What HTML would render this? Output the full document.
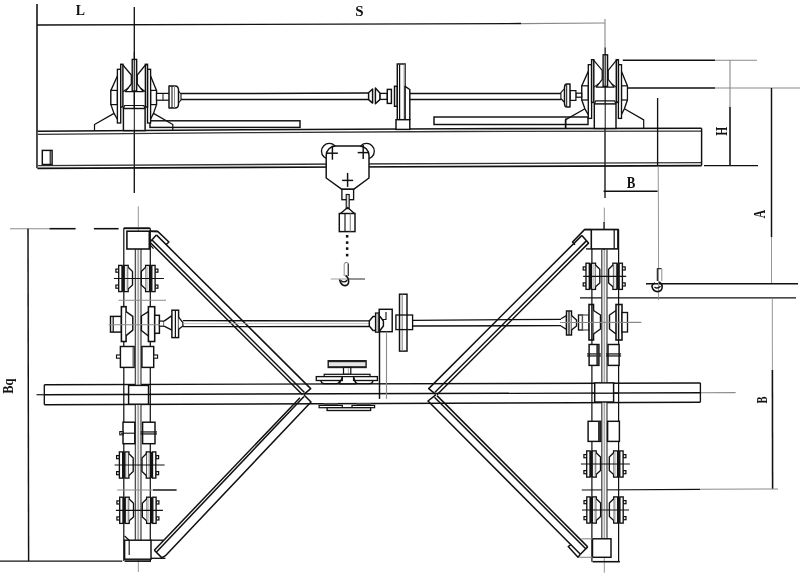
<!DOCTYPE html>
<html><head><meta charset="utf-8"><style>
html,body{margin:0;padding:0;background:#fff;}
body{width:800px;height:575px;overflow:hidden;font-family:"Liberation Serif",serif;}
svg{display:block;filter:grayscale(1);}
</style></head><body>
<svg width="800" height="575" viewBox="0 0 800 575">
<rect width="800" height="575" fill="#fff"/>
<line x1="37" y1="4" x2="37" y2="168" stroke="#111" stroke-width="1.57"/>
<line x1="37" y1="25" x2="521" y2="23.6" stroke="#111" stroke-width="1.46"/>
<line x1="521" y1="23.6" x2="605" y2="23" stroke="#888" stroke-width="1.23"/>
<text x="0" y="0" font-family="Liberation Serif" font-size="100" font-weight="bold" fill="#111" transform="translate(75.823 14.900) scale(0.13833 0.15231)">L</text>
<text x="0" y="0" font-family="Liberation Serif" font-size="100" font-weight="bold" fill="#111" transform="translate(355.250 15.819) scale(0.15000 0.14030)">S</text>
<line x1="134.3" y1="7" x2="134.3" y2="193" stroke="#111" stroke-width="1.34"/>
<line x1="605" y1="19" x2="605" y2="55" stroke="#8a8a8a" stroke-width="1.12"/>
<line x1="605" y1="128" x2="605" y2="198" stroke="#111" stroke-width="1.34"/>
<line x1="605" y1="55" x2="605" y2="128" stroke="#8a8a8a" stroke-width="0.9"/>
<polyline points="37.4,131.3 245,129.8 455,128.7 701.6,128.3" stroke="#111" stroke-width="1.57" fill="none" stroke-linejoin="round"/>
<polyline points="37.4,134.3 245,132.7 455,131.5 701.6,131.1" stroke="#333" stroke-width="1.34" fill="none" stroke-linejoin="round"/>
<polyline points="37.4,165.6 345,164 701.6,162.6" stroke="#333" stroke-width="1.34" fill="none" stroke-linejoin="round"/>
<polyline points="37.4,168.3 345,167 701.6,165.6" stroke="#111" stroke-width="1.68" fill="none" stroke-linejoin="round"/>
<line x1="37.4" y1="131.3" x2="37.4" y2="168.3" stroke="#555" stroke-width="1.23"/>
<line x1="701.6" y1="128.3" x2="701.6" y2="165.6" stroke="#111" stroke-width="1.46"/>
<rect x="42.3" y="150.4" width="9.8" height="14.1" stroke="#111" stroke-width="1.46" fill="#fff"/>
<line x1="50.2" y1="150.6" x2="50.2" y2="164.3" stroke="#111" stroke-width="1.12"/>
<line x1="622.8" y1="60.3" x2="715" y2="60.3" stroke="#111" stroke-width="1.46"/>
<line x1="715" y1="60.3" x2="757" y2="60.3" stroke="#8a8a8a" stroke-width="1.12"/>
<line x1="628" y1="88" x2="715" y2="88" stroke="#111" stroke-width="1.46"/>
<line x1="715" y1="88" x2="800" y2="88" stroke="#8a8a8a" stroke-width="1.12"/>
<line x1="730" y1="60.3" x2="730" y2="107" stroke="#8a8a8a" stroke-width="1.12"/>
<line x1="730" y1="107" x2="730" y2="165.6" stroke="#111" stroke-width="1.57"/>
<line x1="704" y1="165.6" x2="758" y2="165.6" stroke="#111" stroke-width="1.12"/>
<text x="0" y="0" font-family="Liberation Serif" font-size="100" font-weight="bold" fill="#111" transform="translate(726.600 135.632) rotate(-90) scale(0.11622 0.16462)">H</text>
<line x1="771.5" y1="88" x2="771.5" y2="237" stroke="#111" stroke-width="1.46"/>
<line x1="771.5" y1="237" x2="771.5" y2="283.7" stroke="#8a8a8a" stroke-width="0.9"/>
<text x="0" y="0" font-family="Liberation Serif" font-size="100" font-weight="bold" fill="#111" transform="translate(765.200 218.216) rotate(-90) scale(0.11571 0.15758)">A</text>
<line x1="657.6" y1="98" x2="657.6" y2="166" stroke="#111" stroke-width="1.34"/>
<line x1="658.2" y1="166" x2="658.4" y2="198" stroke="#8a8a8a" stroke-width="0.9"/>
<line x1="603.6" y1="191.3" x2="657.6" y2="191.3" stroke="#111" stroke-width="1.46"/>
<text x="0" y="0" font-family="Liberation Serif" font-size="100" font-weight="bold" fill="#111" transform="translate(626.842 187.700) scale(0.12903 0.15846)">B</text>
<line x1="646" y1="283.7" x2="798" y2="283.7" stroke="#111" stroke-width="1.46"/>
<line x1="580" y1="297.9" x2="796" y2="297.9" stroke="#111" stroke-width="1.34"/>
<line x1="772.3" y1="297.9" x2="772.4" y2="370" stroke="#8a8a8a" stroke-width="0.9"/>
<line x1="772.4" y1="370" x2="772.6" y2="489" stroke="#111" stroke-width="1.57"/>
<text x="0" y="0" font-family="Liberation Serif" font-size="100" font-weight="bold" fill="#111" transform="translate(767.000 403.610) rotate(-90) scale(0.10484 0.13538)">B</text>
<line x1="581.8" y1="490" x2="700" y2="489.3" stroke="#111" stroke-width="1.23"/>
<line x1="700" y1="489.3" x2="778" y2="489" stroke="#8a8a8a" stroke-width="1.12"/>
<line x1="10" y1="228.7" x2="49.5" y2="228.7" stroke="#8a8a8a" stroke-width="1.12"/>
<line x1="49.5" y1="228.7" x2="75.6" y2="228.7" stroke="#111" stroke-width="1.57"/>
<line x1="93.9" y1="228.7" x2="118.6" y2="228.7" stroke="#111" stroke-width="1.57"/>
<line x1="28" y1="228.7" x2="28.6" y2="561.1" stroke="#111" stroke-width="1.46"/>
<line x1="0" y1="561.1" x2="122.3" y2="561.1" stroke="#111" stroke-width="1.34"/>
<text x="0" y="0" font-family="Liberation Serif" font-size="100" font-weight="bold" fill="#111" transform="translate(13.143 393.749) rotate(-90) scale(0.12437 0.13605)">Bq</text>
<circle cx="329.3" cy="151.2" r="7.8" stroke="#111" stroke-width="1.34" fill="none"/>
<circle cx="366.5" cy="151.2" r="7.8" stroke="#111" stroke-width="1.34" fill="none"/>
<path d="M326.2,178 V155.5 A9.5,9.5 0 0 1 335.7,146 H359.5 A9.5,9.5 0 0 1 369,155.5 V178 L353.6,189.3 H341.9 Z" stroke="#111" stroke-width="1.46" fill="#fff" stroke-linejoin="round"/>
<line x1="326.9" y1="153.2" x2="337.9" y2="153.2" stroke="#111" stroke-width="1.46"/>
<line x1="332.4" y1="145.7" x2="332.4" y2="159.7" stroke="#111" stroke-width="1.46"/>
<line x1="357.7" y1="152.6" x2="368.7" y2="152.6" stroke="#111" stroke-width="1.46"/>
<line x1="363.2" y1="145.1" x2="363.2" y2="159.1" stroke="#111" stroke-width="1.46"/>
<line x1="342.1" y1="180.4" x2="353.1" y2="180.4" stroke="#111" stroke-width="1.46"/>
<line x1="347.6" y1="172.9" x2="347.6" y2="186.9" stroke="#111" stroke-width="1.46"/>
<rect x="341.9" y="189.3" width="11.7" height="10.4" stroke="#111" stroke-width="1.34" fill="#fff"/>
<rect x="346.2" y="194.5" width="3" height="14.1" stroke="#111" stroke-width="1.12" fill="#ddd"/>
<polyline points="340.5,213.5 347.6,207.5 354.5,213.5" stroke="#111" stroke-width="1.34" fill="none" stroke-linejoin="round"/>
<rect x="339.3" y="213.5" width="15.7" height="18.1" stroke="#111" stroke-width="1.46" fill="#fff"/>
<line x1="345" y1="213.5" x2="345" y2="231.6" stroke="#111" stroke-width="1.12"/>
<line x1="350.3" y1="213.5" x2="350.3" y2="231.6" stroke="#8a8a8a" stroke-width="1.12"/>
<rect x="345.9" y="235" width="2.5" height="2.6" fill="#111"/>
<rect x="345.9" y="241.3" width="2.5" height="2.6" fill="#111"/>
<rect x="345.9" y="247.3" width="2.5" height="2.6" fill="#111"/>
<rect x="345.9" y="253.8" width="2.5" height="2.6" fill="#111"/>
<path d="M344.2,276 V264 Q346.2,261 348.3,263.5" stroke="#999" stroke-width="1.12" fill="none" stroke-linejoin="round"/>
<path d="M348.3,263.5 V276" stroke="#444" stroke-width="1.46" fill="none" stroke-linejoin="round"/>
<line x1="330.7" y1="279" x2="348" y2="279" stroke="#aaa" stroke-width="1.12"/>
<line x1="348" y1="279" x2="365" y2="279" stroke="#888" stroke-width="1.79"/>
<path d="M339.5,279.5 Q341,285.5 345,285.6 Q349,285.2 348.6,281 Q348.3,277 345.5,275.5" stroke="#111" stroke-width="1.57" fill="none" stroke-linejoin="round"/>
<path d="M341,280.5 Q344,283.5 347.2,280.2" stroke="#111" stroke-width="1.34" fill="none" stroke-linejoin="round"/>
<line x1="658.4" y1="198" x2="658.6" y2="300" stroke="#8a8a8a" stroke-width="0.9"/>
<path d="M657.4,281 V268.6 H661.6" stroke="#333" stroke-width="1.34" fill="none" stroke-linejoin="round"/>
<path d="M661.8,269 V281" stroke="#999" stroke-width="1.12" fill="none" stroke-linejoin="round"/>
<path d="M655,283 Q652,284 652,286.5 Q653,291.5 657.5,291.6 Q662,291.5 662.2,287 Q662.2,283.5 659,282" stroke="#111" stroke-width="1.57" fill="none" stroke-linejoin="round"/>
<path d="M654.5,287 Q657.5,289.5 660.5,286.2" stroke="#111" stroke-width="1.34" fill="none" stroke-linejoin="round"/>
<rect x="150" y="120.8" width="150" height="6.6" stroke="#111" stroke-width="1.46" fill="#fff"/>
<rect x="434" y="117" width="154" height="7.5" stroke="#111" stroke-width="1.46" fill="#fff"/>
<line x1="566" y1="118" x2="566" y2="128.4" stroke="#111" stroke-width="1.01"/>
<polyline points="117.4,76 110.9,90.4 110.9,104.6 114,113.4 117.8,120" stroke="#111" stroke-width="1.34" fill="none" stroke-linejoin="round"/>
<polyline points="150.6,76 156.5,90.4 156.5,104.6 153.5,113.4 150.1,120" stroke="#111" stroke-width="1.34" fill="none" stroke-linejoin="round"/>
<rect x="110.9" y="90.4" width="6.5" height="14.2" stroke="#111" stroke-width="1.23" fill="#fff"/>
<rect x="150.6" y="90.4" width="5.9" height="14.2" stroke="#111" stroke-width="1.23" fill="#fff"/>
<polyline points="114,113.4 94.5,124.5 94.5,130.89" stroke="#111" stroke-width="1.23" fill="none" stroke-linejoin="round"/>
<polyline points="153.5,113.4 172.8,124.5 172.8,130.32" stroke="#111" stroke-width="1.23" fill="none" stroke-linejoin="round"/>
<rect x="123.4" y="108.5" width="21.7" height="22.1" stroke="#111" stroke-width="1.46" fill="#fff"/>
<polyline points="123.4,108.5 124.7,105.5 143.8,105.5 145.1,108.5" stroke="#111" stroke-width="1.23" fill="none" stroke-linejoin="round"/>
<rect x="117.4" y="69.3" width="3.3" height="53.7" stroke="#111" stroke-width="1.34" fill="#fff"/>
<rect x="147.5" y="69.3" width="3.1" height="53.7" stroke="#111" stroke-width="1.34" fill="#fff"/>
<rect x="120.7" y="64.3" width="2.2" height="42.7" stroke="#111" stroke-width="1.46" fill="#fff"/>
<rect x="145.4" y="64.3" width="2.1" height="42.7" stroke="#111" stroke-width="1.46" fill="#fff"/>
<polyline points="122.9,65 131.3,75 131.3,84 125.3,91.7 143.3,91.7 137.3,84 137.3,75 145.4,65" stroke="#111" stroke-width="1.23" fill="none" stroke-linejoin="round"/>
<line x1="122.9" y1="91.7" x2="128.3" y2="88" stroke="#111" stroke-width="1.12"/>
<line x1="145.4" y1="91.7" x2="140.3" y2="88" stroke="#111" stroke-width="1.12"/>
<rect x="132.2" y="59.4" width="4.5" height="31.6" stroke="#111" stroke-width="1.34" fill="#d8d8d8"/>
<line x1="134.3" y1="52" x2="134.3" y2="130.6" stroke="#111" stroke-width="1.01"/>
<polyline points="588.3,71.4 581.8,85.8 581.8,100 584.9,108.8 588.7,115.4" stroke="#111" stroke-width="1.34" fill="none" stroke-linejoin="round"/>
<polyline points="621.5,71.4 627.4,85.8 627.4,100 624.4,108.8 621,115.4" stroke="#111" stroke-width="1.34" fill="none" stroke-linejoin="round"/>
<rect x="581.8" y="85.8" width="6.5" height="14.2" stroke="#111" stroke-width="1.23" fill="#fff"/>
<rect x="621.5" y="85.8" width="5.9" height="14.2" stroke="#111" stroke-width="1.23" fill="#fff"/>
<polyline points="584.9,108.8 565.4,119.9 565.4,128.52" stroke="#111" stroke-width="1.23" fill="none" stroke-linejoin="round"/>
<polyline points="624.4,108.8 643.7,119.9 643.7,128.39" stroke="#111" stroke-width="1.23" fill="none" stroke-linejoin="round"/>
<rect x="594.3" y="103.9" width="21.7" height="24.56" stroke="#111" stroke-width="1.46" fill="#fff"/>
<polyline points="594.3,103.9 595.6,100.9 614.7,100.9 616,103.9" stroke="#111" stroke-width="1.23" fill="none" stroke-linejoin="round"/>
<rect x="588.3" y="64.7" width="3.3" height="53.7" stroke="#111" stroke-width="1.34" fill="#fff"/>
<rect x="618.4" y="64.7" width="3.1" height="53.7" stroke="#111" stroke-width="1.34" fill="#fff"/>
<rect x="591.6" y="59.7" width="2.2" height="42.7" stroke="#111" stroke-width="1.46" fill="#fff"/>
<rect x="616.3" y="59.7" width="2.1" height="42.7" stroke="#111" stroke-width="1.46" fill="#fff"/>
<polyline points="593.8,60.4 602.2,70.4 602.2,79.4 596.2,87.1 614.2,87.1 608.2,79.4 608.2,70.4 616.3,60.4" stroke="#111" stroke-width="1.23" fill="none" stroke-linejoin="round"/>
<line x1="593.8" y1="87.1" x2="599.2" y2="83.4" stroke="#111" stroke-width="1.12"/>
<line x1="616.3" y1="87.1" x2="611.2" y2="83.4" stroke="#111" stroke-width="1.12"/>
<rect x="603.1" y="54.8" width="4.5" height="31.6" stroke="#111" stroke-width="1.34" fill="#d8d8d8"/>
<line x1="605.2" y1="47.4" x2="605.2" y2="128.46" stroke="#111" stroke-width="1.01"/>
<rect x="156.5" y="93.4" width="13" height="6.8" stroke="#111" stroke-width="1.23" fill="#fff"/>
<line x1="163" y1="93.4" x2="163" y2="100.2" stroke="#111" stroke-width="1.01"/>
<path d="M169,86 h6 q3.5,0 3.5,4 v14 q0,4 -3.5,4 h-6 z" stroke="#111" stroke-width="1.46" fill="#fff" stroke-linejoin="round"/>
<line x1="172" y1="86" x2="172" y2="108" stroke="#111" stroke-width="1.01"/>
<line x1="174.5" y1="86" x2="174.5" y2="108" stroke="#8a8a8a" stroke-width="1.01"/>
<polyline points="178.5,91 181,94 181,100 178.5,103" stroke="#111" stroke-width="1.12" fill="none" stroke-linejoin="round"/>
<rect x="575.9" y="93.2" width="5.8" height="4" stroke="#111" stroke-width="1.23" fill="#fff"/>
<rect x="570" y="90.6" width="5.9" height="9.8" stroke="#111" stroke-width="1.23" fill="#fff"/>
<path d="M570,84.1 h-3 q-2.5,0 -2.5,3.5 v15.8 q0,3.5 2.5,3.5 h3 z" stroke="#111" stroke-width="1.46" fill="#fff" stroke-linejoin="round"/>
<line x1="566.7" y1="84.5" x2="566.7" y2="106.5" stroke="#111" stroke-width="1.01"/>
<polyline points="564.1,89 560.9,92.6 560.9,98.5 564.1,102" stroke="#111" stroke-width="1.12" fill="none" stroke-linejoin="round"/>
<line x1="181" y1="93.6" x2="368.6" y2="93.1" stroke="#111" stroke-width="1.46"/>
<line x1="181" y1="99.6" x2="368.6" y2="99.4" stroke="#111" stroke-width="1.46"/>
<line x1="409.8" y1="93.5" x2="561" y2="93.6" stroke="#111" stroke-width="1.46"/>
<line x1="409.8" y1="99.4" x2="561" y2="99.4" stroke="#111" stroke-width="1.46"/>
<polygon points="368.6,92.8 372.6,89 372.6,103.1 368.6,99.6" stroke="#111" stroke-width="1.46" fill="#fff" stroke-linejoin="round"/>
<polygon points="375.4,88.1 380.1,93.3 380.1,99.4 375.4,103.8" stroke="#111" stroke-width="1.46" fill="#fff" stroke-linejoin="round"/>
<rect x="380.1" y="93.4" width="7.2" height="6" stroke="#111" stroke-width="1.34" fill="#fff"/>
<rect x="387.3" y="89.4" width="4.1" height="14" stroke="#111" stroke-width="1.46" fill="#fff"/>
<rect x="394.5" y="86.3" width="2.8" height="20" stroke="#111" stroke-width="1.46" fill="#fff"/>
<rect x="397.3" y="64" width="7.8" height="55.7" stroke="#111" stroke-width="1.46" fill="#fff"/>
<line x1="399.6" y1="64.5" x2="399.6" y2="119.5" stroke="#111" stroke-width="1.23"/>
<rect x="403.6" y="64.5" width="1.5" height="55" fill="#999"/>
<polygon points="405.1,86.3 409.8,89.5 409.8,119.7 405.1,119.7" stroke="#111" stroke-width="1.46" fill="#fff" stroke-linejoin="round"/>
<rect x="396" y="119.7" width="13.8" height="9.7" stroke="#111" stroke-width="1.46" fill="#fff"/>
<line x1="44.3" y1="384.7" x2="700.4" y2="382.9" stroke="#111" stroke-width="1.46"/>
<line x1="44.3" y1="394.7" x2="700.4" y2="392.8" stroke="#111" stroke-width="1.46"/>
<line x1="36.5" y1="394.7" x2="44.3" y2="394.7" stroke="#333" stroke-width="1.34"/>
<line x1="700.4" y1="392.8" x2="735.6" y2="392.6" stroke="#8a8a8a" stroke-width="1.12"/>
<line x1="44.3" y1="404.8" x2="700.4" y2="402.2" stroke="#111" stroke-width="1.46"/>
<line x1="44.3" y1="384.7" x2="44.3" y2="404.8" stroke="#111" stroke-width="1.34"/>
<line x1="700.4" y1="382.9" x2="700.4" y2="402.2" stroke="#111" stroke-width="1.34"/>
<polyline points="149.3,231.3 157.7,231.4 168.9,242 166,244.8" stroke="#111" stroke-width="1.51" fill="none" stroke-linejoin="round"/>
<polyline points="156.4,234.9 150.2,241.7" stroke="#111" stroke-width="1.51" fill="none" stroke-linejoin="round"/>
<polyline points="156.4,234.9 310.7,388.6 304,394.3" stroke="#111" stroke-width="1.51" fill="none" stroke-linejoin="round"/>
<line x1="151.75" y1="239.75" x2="304.5" y2="392.5" stroke="#111" stroke-width="1.51"/>
<line x1="150.2" y1="242.5" x2="302.5" y2="394.8" stroke="#111" stroke-width="1.51"/>
<polyline points="149.6,244.3 153.5,248.6" stroke="#111" stroke-width="1.23" fill="none" stroke-linejoin="round"/>
<polyline points="591.3,229.6 584.5,229.6 572.5,242 575,244.8" stroke="#111" stroke-width="1.51" fill="none" stroke-linejoin="round"/>
<polyline points="581.9,235.4 588.7,243.2" stroke="#111" stroke-width="1.51" fill="none" stroke-linejoin="round"/>
<polyline points="581.9,235.4 428.7,388.6 435.8,394.3" stroke="#111" stroke-width="1.51" fill="none" stroke-linejoin="round"/>
<line x1="586.6" y1="240.6" x2="435" y2="392.2" stroke="#111" stroke-width="1.51"/>
<line x1="588.85" y1="242.85" x2="437" y2="394.7" stroke="#111" stroke-width="1.51"/>
<line x1="300" y1="397.7" x2="154.3" y2="550.2" stroke="#111" stroke-width="1.51"/>
<line x1="304" y1="396.5" x2="156.5" y2="552" stroke="#111" stroke-width="1.51"/>
<polyline points="304,395 311,402 165.2,556" stroke="#111" stroke-width="1.51" fill="none" stroke-linejoin="round"/>
<polyline points="154.3,550.2 161.7,557.6 165.2,556" stroke="#111" stroke-width="1.51" fill="none" stroke-linejoin="round"/>
<line x1="151" y1="540.2" x2="163.5" y2="540.2" stroke="#111" stroke-width="1.34"/>
<line x1="437" y1="395.6" x2="587.7" y2="546.9" stroke="#111" stroke-width="1.51"/>
<line x1="434.5" y1="397.3" x2="586" y2="549" stroke="#111" stroke-width="1.51"/>
<polyline points="435.8,394.8 428,401 580.4,554.2" stroke="#111" stroke-width="1.51" fill="none" stroke-linejoin="round"/>
<polyline points="587.7,546.9 580.4,554.2" stroke="#111" stroke-width="1.51" fill="none" stroke-linejoin="round"/>
<polyline points="571,544.5 568.2,546.6 578,557.3 580.4,554.2" stroke="#111" stroke-width="1.46" fill="none" stroke-linejoin="round"/>
<line x1="123.8" y1="228.3" x2="123.8" y2="561" stroke="#111" stroke-width="1.23"/>
<line x1="150.3" y1="228.3" x2="150.3" y2="561" stroke="#111" stroke-width="1.23"/>
<line x1="123.8" y1="228.3" x2="150.3" y2="228.3" stroke="#111" stroke-width="1.57"/>
<rect x="135.3" y="248.3" width="5.7" height="291.7" fill="#f2f2f2"/>
<line x1="135.3" y1="248.3" x2="135.3" y2="540" stroke="#333" stroke-width="1.12"/>
<line x1="141" y1="248.3" x2="141" y2="540" stroke="#333" stroke-width="1.12"/>
<line x1="138.3" y1="206.3" x2="138.3" y2="572" stroke="#8a8a8a" stroke-width="0.9"/>
<line x1="137.9" y1="248.3" x2="137.9" y2="540" stroke="#aaa" stroke-width="0.78"/>
<line x1="591.9" y1="229.6" x2="591.9" y2="561.7" stroke="#111" stroke-width="1.23"/>
<line x1="618.6" y1="229.6" x2="618.6" y2="561.7" stroke="#111" stroke-width="1.23"/>
<line x1="591.9" y1="229.6" x2="618.6" y2="229.6" stroke="#111" stroke-width="1.57"/>
<rect x="601.8" y="249.6" width="5.2" height="291.1" fill="#f2f2f2"/>
<line x1="601.8" y1="249.6" x2="601.8" y2="540.7" stroke="#333" stroke-width="1.12"/>
<line x1="607" y1="249.6" x2="607" y2="540.7" stroke="#333" stroke-width="1.12"/>
<line x1="604.3" y1="207.6" x2="604.3" y2="572.7" stroke="#8a8a8a" stroke-width="0.9"/>
<line x1="604.4" y1="249.6" x2="604.4" y2="540.7" stroke="#aaa" stroke-width="0.78"/>
<line x1="604" y1="222" x2="604" y2="250" stroke="#111" stroke-width="1.23"/>
<rect x="126.9" y="231.2" width="22.4" height="17.8" stroke="#111" stroke-width="1.57" fill="#fff"/>
<line x1="149.3" y1="231.2" x2="157.7" y2="231.4" stroke="#111" stroke-width="1.57"/>
<line x1="123.8" y1="228.3" x2="149.3" y2="228.3" stroke="#111" stroke-width="1.57"/>
<rect x="591.3" y="229.6" width="26.6" height="19.3" stroke="#111" stroke-width="1.57" fill="#fff"/>
<line x1="614.2" y1="229.6" x2="614.2" y2="248.9" stroke="#111" stroke-width="1.23"/>
<line x1="584.5" y1="229.6" x2="591.3" y2="229.6" stroke="#111" stroke-width="1.57"/>
<line x1="586" y1="248.9" x2="591.3" y2="248.9" stroke="#111" stroke-width="1.34"/>
<rect x="128.6" y="385.4" width="19.9" height="18.8" stroke="#111" stroke-width="1.46" fill="#fff"/>
<line x1="124" y1="394.5" x2="151" y2="394.5" stroke="#111" stroke-width="1.34"/>
<rect x="594.7" y="382.9" width="18.9" height="19.1" stroke="#111" stroke-width="1.46" fill="#fff"/>
<line x1="592" y1="393.2" x2="619" y2="393.2" stroke="#111" stroke-width="1.34"/>
<rect x="124.6" y="540.2" width="26.4" height="19" stroke="#111" stroke-width="1.46" fill="#fff"/>
<line x1="124.6" y1="561.1" x2="151" y2="561.1" stroke="#111" stroke-width="1.68"/>
<line x1="124.6" y1="536" x2="129.2" y2="540.2" stroke="#111" stroke-width="1.23"/>
<line x1="129.2" y1="540.2" x2="129.2" y2="555" stroke="#111" stroke-width="1.12"/>
<line x1="151" y1="558.3" x2="165.4" y2="558.3" stroke="#111" stroke-width="1.34"/>
<rect x="592.5" y="538.8" width="18.5" height="18.5" stroke="#111" stroke-width="1.46" fill="#fff"/>
<line x1="592.5" y1="561.7" x2="619.9" y2="561.7" stroke="#111" stroke-width="1.57"/>
<line x1="579.2" y1="557.3" x2="592.5" y2="557.3" stroke="#8a8a8a" stroke-width="1.12"/>
<line x1="581.4" y1="538.8" x2="592.5" y2="538.8" stroke="#8a8a8a" stroke-width="1.12"/>
<rect x="115.9" y="269.1" width="2.8" height="3.1" stroke="#111" stroke-width="1.23" fill="#fff"/>
<rect x="115.9" y="285.1" width="2.8" height="3.1" stroke="#111" stroke-width="1.23" fill="#fff"/>
<rect x="118.7" y="265.4" width="3.3" height="26.2" stroke="#111" stroke-width="1.34" fill="#fff"/>
<rect x="122" y="265.4" width="2.2" height="26.2" fill="#151515"/>
<rect x="124.2" y="265.4" width="4" height="26.2" stroke="#111" stroke-width="1.34" fill="#fff"/>
<rect x="125.7" y="266.4" width="1" height="24.2" fill="#c8c8c8"/>
<polyline points="128.2,267.3 132.5,271.5 132.5,285.1 128.2,288.9" stroke="#111" stroke-width="1.34" fill="#fff" stroke-linejoin="round"/>
<rect x="155.1" y="269.1" width="2.8" height="3.1" stroke="#111" stroke-width="1.23" fill="#fff"/>
<rect x="155.1" y="285.1" width="2.8" height="3.1" stroke="#111" stroke-width="1.23" fill="#fff"/>
<rect x="151.8" y="265.4" width="3.3" height="26.2" stroke="#111" stroke-width="1.34" fill="#fff"/>
<rect x="149.6" y="265.4" width="2.2" height="26.2" fill="#151515"/>
<rect x="145.6" y="265.4" width="4" height="26.2" stroke="#111" stroke-width="1.34" fill="#fff"/>
<rect x="147.1" y="266.4" width="1" height="24.2" fill="#c8c8c8"/>
<polyline points="145.6,267.3 141.3,271.5 141.3,285.1 145.6,288.9" stroke="#111" stroke-width="1.34" fill="#fff" stroke-linejoin="round"/>
<line x1="113.9" y1="278.5" x2="163.9" y2="278.5" stroke="#111" stroke-width="1.23"/>
<rect x="116.6" y="455.6" width="2.8" height="3.1" stroke="#111" stroke-width="1.23" fill="#fff"/>
<rect x="116.6" y="471.6" width="2.8" height="3.1" stroke="#111" stroke-width="1.23" fill="#fff"/>
<rect x="119.4" y="451.9" width="3.3" height="26.2" stroke="#111" stroke-width="1.34" fill="#fff"/>
<rect x="122.7" y="451.9" width="2.2" height="26.2" fill="#151515"/>
<rect x="124.9" y="451.9" width="4" height="26.2" stroke="#111" stroke-width="1.34" fill="#fff"/>
<rect x="126.4" y="452.9" width="1" height="24.2" fill="#c8c8c8"/>
<polyline points="128.9,453.8 133.2,458 133.2,471.6 128.9,475.4" stroke="#111" stroke-width="1.34" fill="#fff" stroke-linejoin="round"/>
<rect x="155.8" y="455.6" width="2.8" height="3.1" stroke="#111" stroke-width="1.23" fill="#fff"/>
<rect x="155.8" y="471.6" width="2.8" height="3.1" stroke="#111" stroke-width="1.23" fill="#fff"/>
<rect x="152.5" y="451.9" width="3.3" height="26.2" stroke="#111" stroke-width="1.34" fill="#fff"/>
<rect x="150.3" y="451.9" width="2.2" height="26.2" fill="#151515"/>
<rect x="146.3" y="451.9" width="4" height="26.2" stroke="#111" stroke-width="1.34" fill="#fff"/>
<rect x="147.8" y="452.9" width="1" height="24.2" fill="#c8c8c8"/>
<polyline points="146.3,453.8 142,458 142,471.6 146.3,475.4" stroke="#111" stroke-width="1.34" fill="#fff" stroke-linejoin="round"/>
<line x1="114.6" y1="465" x2="164.6" y2="465" stroke="#111" stroke-width="1.23"/>
<rect x="116.9" y="500.9" width="2.8" height="3.1" stroke="#111" stroke-width="1.23" fill="#fff"/>
<rect x="116.9" y="516.9" width="2.8" height="3.1" stroke="#111" stroke-width="1.23" fill="#fff"/>
<rect x="119.7" y="497.2" width="3.3" height="26.2" stroke="#111" stroke-width="1.34" fill="#fff"/>
<rect x="123" y="497.2" width="2.2" height="26.2" fill="#151515"/>
<rect x="125.2" y="497.2" width="4" height="26.2" stroke="#111" stroke-width="1.34" fill="#fff"/>
<rect x="126.7" y="498.2" width="1" height="24.2" fill="#c8c8c8"/>
<polyline points="129.2,499.1 133.5,503.3 133.5,516.9 129.2,520.7" stroke="#111" stroke-width="1.34" fill="#fff" stroke-linejoin="round"/>
<rect x="156.1" y="500.9" width="2.8" height="3.1" stroke="#111" stroke-width="1.23" fill="#fff"/>
<rect x="156.1" y="516.9" width="2.8" height="3.1" stroke="#111" stroke-width="1.23" fill="#fff"/>
<rect x="152.8" y="497.2" width="3.3" height="26.2" stroke="#111" stroke-width="1.34" fill="#fff"/>
<rect x="150.6" y="497.2" width="2.2" height="26.2" fill="#151515"/>
<rect x="146.6" y="497.2" width="4" height="26.2" stroke="#111" stroke-width="1.34" fill="#fff"/>
<rect x="148.1" y="498.2" width="1" height="24.2" fill="#c8c8c8"/>
<polyline points="146.6,499.1 142.3,503.3 142.3,516.9 146.6,520.7" stroke="#111" stroke-width="1.34" fill="#fff" stroke-linejoin="round"/>
<line x1="115.9" y1="510.3" x2="162.9" y2="510.3" stroke="#111" stroke-width="1.23"/>
<rect x="583.2" y="266.9" width="2.8" height="3.1" stroke="#111" stroke-width="1.23" fill="#fff"/>
<rect x="583.2" y="282.9" width="2.8" height="3.1" stroke="#111" stroke-width="1.23" fill="#fff"/>
<rect x="586" y="263.2" width="3.3" height="26.2" stroke="#111" stroke-width="1.34" fill="#fff"/>
<rect x="589.3" y="263.2" width="2.2" height="26.2" fill="#151515"/>
<rect x="591.5" y="263.2" width="4" height="26.2" stroke="#111" stroke-width="1.34" fill="#fff"/>
<rect x="593" y="264.2" width="1" height="24.2" fill="#c8c8c8"/>
<polyline points="595.5,265.1 599.8,269.3 599.8,282.9 595.5,286.7" stroke="#111" stroke-width="1.34" fill="#fff" stroke-linejoin="round"/>
<rect x="622.4" y="266.9" width="2.8" height="3.1" stroke="#111" stroke-width="1.23" fill="#fff"/>
<rect x="622.4" y="282.9" width="2.8" height="3.1" stroke="#111" stroke-width="1.23" fill="#fff"/>
<rect x="619.1" y="263.2" width="3.3" height="26.2" stroke="#111" stroke-width="1.34" fill="#fff"/>
<rect x="616.9" y="263.2" width="2.2" height="26.2" fill="#151515"/>
<rect x="612.9" y="263.2" width="4" height="26.2" stroke="#111" stroke-width="1.34" fill="#fff"/>
<rect x="614.4" y="264.2" width="1" height="24.2" fill="#c8c8c8"/>
<polyline points="612.9,265.1 608.6,269.3 608.6,282.9 612.9,286.7" stroke="#111" stroke-width="1.34" fill="#fff" stroke-linejoin="round"/>
<line x1="583.2" y1="276.3" x2="626.2" y2="276.3" stroke="#111" stroke-width="1.23"/>
<rect x="583.9" y="454.6" width="2.8" height="3.1" stroke="#111" stroke-width="1.23" fill="#fff"/>
<rect x="583.9" y="470.6" width="2.8" height="3.1" stroke="#111" stroke-width="1.23" fill="#fff"/>
<rect x="586.7" y="450.9" width="3.3" height="26.2" stroke="#111" stroke-width="1.34" fill="#fff"/>
<rect x="590" y="450.9" width="2.2" height="26.2" fill="#151515"/>
<rect x="592.2" y="450.9" width="4" height="26.2" stroke="#111" stroke-width="1.34" fill="#fff"/>
<rect x="593.7" y="451.9" width="1" height="24.2" fill="#c8c8c8"/>
<polyline points="596.2,452.8 600.5,457 600.5,470.6 596.2,474.4" stroke="#111" stroke-width="1.34" fill="#fff" stroke-linejoin="round"/>
<rect x="623.1" y="454.6" width="2.8" height="3.1" stroke="#111" stroke-width="1.23" fill="#fff"/>
<rect x="623.1" y="470.6" width="2.8" height="3.1" stroke="#111" stroke-width="1.23" fill="#fff"/>
<rect x="619.8" y="450.9" width="3.3" height="26.2" stroke="#111" stroke-width="1.34" fill="#fff"/>
<rect x="617.6" y="450.9" width="2.2" height="26.2" fill="#151515"/>
<rect x="613.6" y="450.9" width="4" height="26.2" stroke="#111" stroke-width="1.34" fill="#fff"/>
<rect x="615.1" y="451.9" width="1" height="24.2" fill="#c8c8c8"/>
<polyline points="613.6,452.8 609.3,457 609.3,470.6 613.6,474.4" stroke="#111" stroke-width="1.34" fill="#fff" stroke-linejoin="round"/>
<line x1="580.9" y1="464" x2="629.9" y2="464" stroke="#111" stroke-width="1.23"/>
<rect x="584" y="500.6" width="2.8" height="3.1" stroke="#111" stroke-width="1.23" fill="#fff"/>
<rect x="584" y="516.6" width="2.8" height="3.1" stroke="#111" stroke-width="1.23" fill="#fff"/>
<rect x="586.8" y="496.9" width="3.3" height="26.2" stroke="#111" stroke-width="1.34" fill="#fff"/>
<rect x="590.1" y="496.9" width="2.2" height="26.2" fill="#151515"/>
<rect x="592.3" y="496.9" width="4" height="26.2" stroke="#111" stroke-width="1.34" fill="#fff"/>
<rect x="593.8" y="497.9" width="1" height="24.2" fill="#c8c8c8"/>
<polyline points="596.3,498.8 600.6,503 600.6,516.6 596.3,520.4" stroke="#111" stroke-width="1.34" fill="#fff" stroke-linejoin="round"/>
<rect x="623.2" y="500.6" width="2.8" height="3.1" stroke="#111" stroke-width="1.23" fill="#fff"/>
<rect x="623.2" y="516.6" width="2.8" height="3.1" stroke="#111" stroke-width="1.23" fill="#fff"/>
<rect x="619.9" y="496.9" width="3.3" height="26.2" stroke="#111" stroke-width="1.34" fill="#fff"/>
<rect x="617.7" y="496.9" width="2.2" height="26.2" fill="#151515"/>
<rect x="613.7" y="496.9" width="4" height="26.2" stroke="#111" stroke-width="1.34" fill="#fff"/>
<rect x="615.2" y="497.9" width="1" height="24.2" fill="#c8c8c8"/>
<polyline points="613.7,498.8 609.4,503 609.4,516.6 613.7,520.4" stroke="#111" stroke-width="1.34" fill="#fff" stroke-linejoin="round"/>
<line x1="582" y1="510" x2="629" y2="510" stroke="#111" stroke-width="1.23"/>
<line x1="118.5" y1="300.2" x2="166" y2="300.2" stroke="#8a8a8a" stroke-width="1.12"/>
<line x1="117.2" y1="490" x2="153" y2="490" stroke="#8a8a8a" stroke-width="1.12"/>
<line x1="153" y1="490" x2="176.6" y2="490" stroke="#111" stroke-width="1.46"/>
<rect x="120.4" y="346.5" width="13.7" height="20.9" stroke="#111" stroke-width="1.46" fill="#fff"/>
<rect x="116.5" y="355" width="3.9" height="3.2" stroke="#111" stroke-width="1.12" fill="#fff"/>
<line x1="132.8" y1="347" x2="132.8" y2="367" stroke="#8a8a8a" stroke-width="1.01"/>
<rect x="141.9" y="346.5" width="11.8" height="20.9" stroke="#111" stroke-width="1.46" fill="#fff"/>
<rect x="153.7" y="355" width="3.9" height="3.2" stroke="#111" stroke-width="1.12" fill="#fff"/>
<rect x="123" y="422.2" width="11.8" height="21.5" stroke="#111" stroke-width="1.46" fill="#fff"/>
<rect x="119.8" y="431.6" width="3.2" height="3.2" stroke="#111" stroke-width="1.12" fill="#fff"/>
<line x1="134.8" y1="433.2" x2="121" y2="433.2" stroke="#111" stroke-width="1.12"/>
<rect x="142.6" y="422.2" width="12.4" height="21.5" stroke="#111" stroke-width="1.46" fill="#fff"/>
<line x1="140.6" y1="431.95" x2="157" y2="431.95" stroke="#111" stroke-width="1.23"/>
<line x1="140.6" y1="433.95" x2="157" y2="433.95" stroke="#111" stroke-width="1.23"/>
<rect x="589.1" y="344.5" width="9.8" height="20.9" stroke="#111" stroke-width="1.46" fill="#fff"/>
<line x1="587.1" y1="353.95" x2="600.9" y2="353.95" stroke="#111" stroke-width="1.23"/>
<line x1="587.1" y1="355.95" x2="600.9" y2="355.95" stroke="#111" stroke-width="1.23"/>
<rect x="596.3" y="345" width="2.6" height="20" fill="#333"/>
<rect x="608" y="344.5" width="11.1" height="20.9" stroke="#111" stroke-width="1.46" fill="#fff"/>
<line x1="606" y1="353.95" x2="621.1" y2="353.95" stroke="#111" stroke-width="1.23"/>
<line x1="606" y1="355.95" x2="621.1" y2="355.95" stroke="#111" stroke-width="1.23"/>
<rect x="588.1" y="421.3" width="12.5" height="20.1" stroke="#111" stroke-width="1.46" fill="#fff"/>
<rect x="607.6" y="421.3" width="11.8" height="20.1" stroke="#111" stroke-width="1.46" fill="#fff"/>
<rect x="598" y="421.5" width="2.6" height="19.5" fill="#333"/>
<rect x="110.5" y="316.4" width="10.9" height="15.7" stroke="#111" stroke-width="1.46" fill="#fff"/>
<line x1="113.2" y1="316.5" x2="113.2" y2="332" stroke="#111" stroke-width="1.23"/>
<rect x="121.4" y="306.7" width="4.7" height="34.8" stroke="#111" stroke-width="1.57" fill="#fff"/>
<polyline points="126.1,311.7 132.8,316.4 132.8,330.1 126.1,335.6" stroke="#111" stroke-width="1.46" fill="#fff" stroke-linejoin="round"/>
<polyline points="148.4,311.7 141.4,316 141.4,330.5 148.4,336" stroke="#111" stroke-width="1.46" fill="#fff" stroke-linejoin="round"/>
<rect x="148.4" y="306.7" width="6.3" height="34.8" stroke="#111" stroke-width="1.57" fill="#fff"/>
<rect x="154.7" y="315.3" width="4.7" height="18" stroke="#111" stroke-width="1.46" fill="#fff"/>
<rect x="159.4" y="321.1" width="4.7" height="5.1" stroke="#111" stroke-width="1.23" fill="#fff"/>
<polyline points="164.1,321.1 171.9,315.6 171.9,330.1 164.1,326.2" stroke="#111" stroke-width="1.34" fill="#fff" stroke-linejoin="round"/>
<rect x="171.9" y="310.2" width="6.7" height="27.4" stroke="#111" stroke-width="1.46" fill="#fff"/>
<line x1="175.4" y1="310.5" x2="175.4" y2="337.3" stroke="#111" stroke-width="1.23"/>
<polyline points="178.6,317.2 182.9,322.7 182.9,326 178.6,329.3" stroke="#111" stroke-width="1.34" fill="#fff" stroke-linejoin="round"/>
<line x1="108.7" y1="324.7" x2="160" y2="324.7" stroke="#8a8a8a" stroke-width="1.12"/>
<line x1="182.9" y1="320.7" x2="369.3" y2="320.8" stroke="#111" stroke-width="1.34"/>
<line x1="182.9" y1="326.6" x2="369.3" y2="326.5" stroke="#111" stroke-width="1.34"/>
<line x1="182.9" y1="323.6" x2="369.3" y2="323.6" stroke="#b0b0b0" stroke-width="0.78"/>
<polygon points="369.3,321 373,316.5 380,316.5 383.4,321 383.4,326 380,330.5 373,330.5 369.3,326" stroke="#111" stroke-width="1.46" fill="#fff" stroke-linejoin="round"/>
<rect x="375.5" y="313" width="3.7" height="19.2" stroke="#111" stroke-width="1.23" fill="#bbb"/>
<rect x="379.2" y="309.3" width="13" height="22.4" stroke="#111" stroke-width="1.46" fill="none"/>
<polyline points="386,312 386,319.5 383,319.5" stroke="#111" stroke-width="1.12" fill="none" stroke-linejoin="round"/>
<line x1="379.5" y1="331.7" x2="379.5" y2="398.9" stroke="#111" stroke-width="1.46"/>
<line x1="386.5" y1="331.7" x2="386.5" y2="398.9" stroke="#8a8a8a" stroke-width="1.12"/>
<rect x="399.5" y="294.2" width="7.5" height="56.9" stroke="#111" stroke-width="1.46" fill="#fff"/>
<line x1="402.2" y1="294.5" x2="402.2" y2="351" stroke="#8a8a8a" stroke-width="1.12"/>
<rect x="395.9" y="315" width="16.7" height="14.6" stroke="#111" stroke-width="1.34" fill="none"/>
<line x1="412.6" y1="320.3" x2="561" y2="319.3" stroke="#111" stroke-width="1.34"/>
<line x1="412.6" y1="326" x2="561" y2="325.6" stroke="#111" stroke-width="1.34"/>
<polyline points="561,318.8 566.5,315.5 566.5,329.5 561,326" stroke="#111" stroke-width="1.34" fill="#fff" stroke-linejoin="round"/>
<rect x="566.5" y="311" width="5" height="24" stroke="#111" stroke-width="1.46" fill="#fff"/>
<line x1="569" y1="311.3" x2="569" y2="334.7" stroke="#111" stroke-width="1.23"/>
<polyline points="571.5,315.5 576.5,320 576.5,326 571.5,330" stroke="#111" stroke-width="1.34" fill="#fff" stroke-linejoin="round"/>
<rect x="578.5" y="315" width="4" height="15" stroke="#111" stroke-width="1.34" fill="#fff"/>
<rect x="582.5" y="315" width="6.5" height="15" stroke="#555" stroke-width="1.23" fill="#fff"/>
<rect x="589" y="304.5" width="4.5" height="35.5" stroke="#111" stroke-width="1.57" fill="#fff"/>
<polyline points="593.5,310.5 600.5,315 600.5,329 593.5,334" stroke="#111" stroke-width="1.46" fill="#fff" stroke-linejoin="round"/>
<polyline points="616,310.5 609.5,315 609.5,329 616,334" stroke="#111" stroke-width="1.46" fill="#fff" stroke-linejoin="round"/>
<rect x="616" y="304.5" width="6" height="35.5" stroke="#111" stroke-width="1.57" fill="#fff"/>
<rect x="622" y="312.5" width="5.5" height="19.5" stroke="#111" stroke-width="1.34" fill="#fff"/>
<line x1="591.9" y1="304.5" x2="591.9" y2="340" stroke="#111" stroke-width="1.46"/>
<line x1="618.6" y1="304.5" x2="618.6" y2="340" stroke="#111" stroke-width="1.46"/>
<line x1="560" y1="322.5" x2="641.3" y2="322.4" stroke="#8a8a8a" stroke-width="1.12"/>
<rect x="328.2" y="360.7" width="37.9" height="6.8" stroke="#111" stroke-width="1.34" fill="#e6e6e6"/>
<rect x="328.6" y="360.4" width="37.1" height="1.8" fill="#222"/>
<rect x="328.6" y="366.2" width="37.1" height="1.6" fill="#222"/>
<rect x="343.5" y="367.5" width="7.3" height="6.8" stroke="#111" stroke-width="1.23" fill="#fff"/>
<line x1="348.3" y1="368" x2="348.3" y2="374" stroke="#999" stroke-width="0.9"/>
<rect x="324.2" y="374.3" width="45.8" height="2.3" stroke="#111" stroke-width="1.23" fill="#fff"/>
<rect x="316.3" y="376.6" width="26" height="3.9" stroke="#111" stroke-width="1.34" fill="#fff"/>
<rect x="353.6" y="376.6" width="23.8" height="3.9" stroke="#111" stroke-width="1.34" fill="#fff"/>
<polyline points="342.3,377 339.5,383.8 356,383.8 353.6,377" stroke="#111" stroke-width="1.23" fill="none" stroke-linejoin="round"/>
<path d="M320.8,380.5 Q321.5,383.6 324,383.6 H337 Q339.5,383.6 339.5,380.5" stroke="#111" stroke-width="1.23" fill="none" stroke-linejoin="round"/>
<path d="M354.8,380.5 Q355.5,383.6 358,383.6 H370 Q372.9,383.6 372.9,380.5" stroke="#111" stroke-width="1.23" fill="none" stroke-linejoin="round"/>
<rect x="323.7" y="403.2" width="14.1" height="2.2" fill="#555"/>
<rect x="356.5" y="403.2" width="14.7" height="2.2" fill="#555"/>
<rect x="319.1" y="405.4" width="23.2" height="2.3" stroke="#111" stroke-width="1.23" fill="#fff"/>
<rect x="352" y="405.4" width="22.6" height="2.3" stroke="#111" stroke-width="1.23" fill="#fff"/>
<rect x="327.1" y="407.7" width="43.5" height="2.8" stroke="#111" stroke-width="1.34" fill="#fff"/>
</svg>
</body></html>
